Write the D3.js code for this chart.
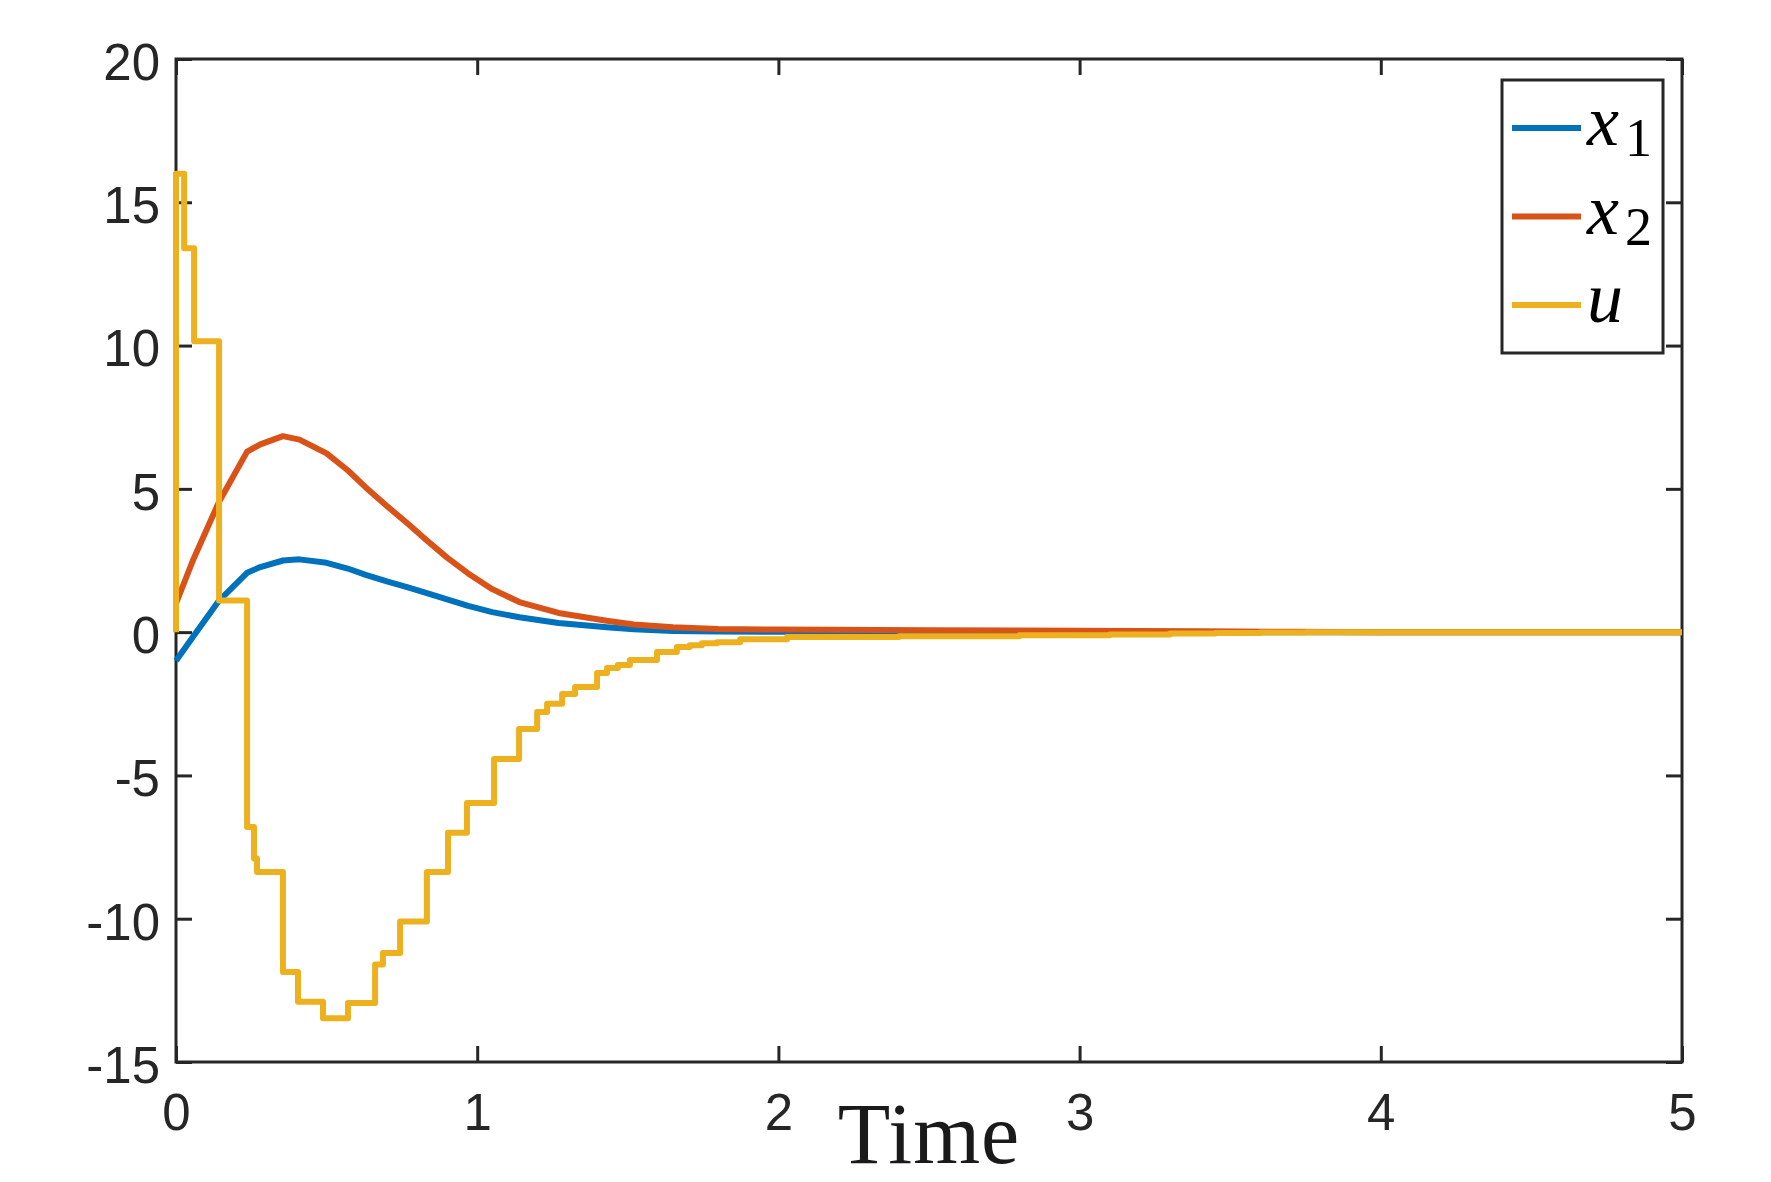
<!DOCTYPE html>
<html>
<head>
<meta charset="utf-8">
<script src="https://cdn.jsdelivr.net/npm/d3@7"></script>
<style>
  html, body { margin: 0; padding: 0; background: #ffffff; }
  svg { display: block; }
</style>
</head>
<body>
<div id="chart"></div>
<script>
// Chart size and margins (plot box lives inside these)
const WIDTH = 1771;
const HEIGHT = 1182;
const margin = {
  top: 59,
  right: 89,
  bottom: 120,
  left: 176
};

const INK = '#262626';

// Ticks
const xTicks = [0, 1, 2, 3, 4, 5];
const yTicks = [-15, -10, -5, 0, 5, 10, 15, 20];

// States x1, x2 sampled on a common time grid
const tState = [0, 0.056, 0.143, 0.236, 0.28, 0.355, 0.41, 0.5, 0.57, 0.63, 0.7, 0.77,
  0.833, 0.9, 0.97, 1.05, 1.14, 1.27, 1.43, 1.52, 1.65, 1.8, 2.0, 2.5, 3.0, 3.4, 3.7, 4.0, 5.0];
const x1Vals = [-1.0, -0.17, 1.1, 2.07, 2.27, 2.5, 2.54, 2.42, 2.22, 2.0, 1.77, 1.56,
  1.36, 1.14, 0.92, 0.7, 0.52, 0.32, 0.17, 0.1, 0.04, 0.02, 0.01, 0, 0, 0, 0, 0, 0];
const x2Vals = [1.0, 2.5, 4.55, 6.3, 6.55, 6.84, 6.72, 6.24, 5.65, 5.05, 4.4, 3.78,
  3.2, 2.6, 2.05, 1.5, 1.05, 0.67, 0.4, 0.27, 0.17, 0.11, 0.09, 0.07, 0.05, 0.03, 0.01, 0, 0];

// Control input u is piecewise constant (event triggered updates)
const uTimes = [0, 0, 0.027, 0.06, 0.143, 0.236, 0.259, 0.269, 0.355, 0.405, 0.488, 0.571,
  0.661, 0.687, 0.744, 0.833, 0.903, 0.966, 1.056, 1.139, 1.199, 1.232, 1.282, 1.325,
  1.398, 1.431, 1.467, 1.507, 1.597, 1.663, 1.706, 1.746, 1.796, 1.873, 2.029, 2.4,
  2.8, 3.1, 3.3, 3.45, 3.6, 3.75, 5.0];
const uVals = [0, 16.0, 13.4, 10.15, 1.1, -6.8, -7.9, -8.37, -11.86, -12.9, -13.47, -12.94,
  -11.6, -11.2, -10.1, -8.37, -7.0, -5.96, -4.43, -3.38, -2.79, -2.5, -2.16, -1.91,
  -1.43, -1.25, -1.15, -0.97, -0.69, -0.52, -0.46, -0.39, -0.35, -0.25, -0.17, -0.14,
  -0.11, -0.08, -0.05, -0.03, -0.01, 0, 0];

// Series names / colours (MATLAB default order)
const seriesNames = ['x1', 'x2', 'u'];
const seriesBase = ['x', 'x', 'u'];
const seriesSub = ['1', '2', ''];
const seriesColors = ['#0072BD', '#D95319', '#EDB120'];

const plotW = WIDTH - margin.left - margin.right;
const plotH = HEIGHT - margin.top - margin.bottom;

// Svg
const svg = d3
  .select('#chart')
  .append('svg')
  .attr('width', WIDTH)
  .attr('height', HEIGHT);

svg.append('rect')
  .attr('width', WIDTH)
  .attr('height', HEIGHT)
  .attr('fill', '#ffffff');

// Scales
const xScale = d3.scaleLinear()
  .domain([0, 5])
  .range([margin.left, margin.left + plotW]);

const yScale = d3.scaleLinear()
  .domain([-15, 20])
  .range([margin.top + plotH, margin.top]);

const TICK = 16;

// Bottom axis with labels
const xaxis = svg.append('g')
  .attr('transform', `translate(0, ${margin.top + plotH})`)
  .call(d3.axisBottom(xScale).tickValues(xTicks).tickFormat(d3.format('d'))
    .tickSizeInner(-TICK).tickSizeOuter(0).tickPadding(32));

// Left axis with labels
const yaxis = svg.append('g')
  .attr('transform', `translate(${margin.left}, 0)`)
  .call(d3.axisLeft(yScale).tickValues(yTicks).tickFormat(d => d < 0 ? '-' + Math.abs(d) : d)
    .tickSizeInner(-TICK).tickSizeOuter(0).tickPadding(16));

// Top and right: ticks only
const xaxisTop = svg.append('g')
  .attr('transform', `translate(0, ${margin.top})`)
  .call(d3.axisTop(xScale).tickValues(xTicks).tickFormat('')
    .tickSizeInner(-TICK).tickSizeOuter(0));

const yaxisRight = svg.append('g')
  .attr('transform', `translate(${margin.left + plotW}, 0)`)
  .call(d3.axisRight(yScale).tickValues(yTicks).tickFormat('')
    .tickSizeInner(-TICK).tickSizeOuter(0));

[xaxis, yaxis, xaxisTop, yaxisRight].forEach(ax => {
  ax.select('.domain').remove();
  ax.selectAll('line').attr('stroke', INK).attr('stroke-width', 3);
  ax.selectAll('text')
    .attr('fill', INK)
    .attr('font-family', '"Liberation Sans", Arial, Helvetica, sans-serif')
    .attr('font-size', '51px');
});
yaxis.selectAll('text').attr('dy', '0.4em');

// Box round the plot
svg.append('rect')
  .attr('x', margin.left)
  .attr('y', margin.top)
  .attr('width', plotW)
  .attr('height', plotH)
  .attr('fill', 'none')
  .attr('stroke', INK)
  .attr('stroke-width', 3);

// Lines
const stateLine = d3.line()
  .x(d => xScale(d[0]))
  .y(d => yScale(d[1]));

const stepLine = d3.line()
  .x(d => xScale(d[0]))
  .y(d => yScale(d[1]))
  .curve(d3.curveStepAfter);

const seriesData = [
  { pts: d3.zip(tState, x1Vals), gen: stateLine },
  { pts: d3.zip(tState, x2Vals), gen: stateLine },
  { pts: d3.zip(uTimes, uVals), gen: stepLine }
];

svg.append('g')
  .attr('id', 'lines')
  .selectAll('path')
  .data(seriesData)
  .join('path')
  .attr('d', d => d.gen(d.pts))
  .attr('fill', 'none')
  .attr('stroke', (d, i) => seriesColors[i])
  .attr('stroke-width', 6)
  .attr('stroke-linejoin', 'round')
  .attr('stroke-linecap', 'butt');

// Legend
const legend = svg.append('g').attr('id', 'legend');

legend.append('rect')
  .attr('x', 1502)
  .attr('y', 80)
  .attr('width', 161)
  .attr('height', 273)
  .attr('fill', '#ffffff')
  .attr('stroke', INK)
  .attr('stroke-width', 3);

const rows = legend.selectAll('g.row')
  .data(seriesNames)
  .join('g')
  .attr('class', 'row')
  .attr('transform', (d, i) => `translate(0, ${128 + i * 88.5})`);

rows.append('line')
  .attr('x1', 1512)
  .attr('x2', 1581)
  .attr('stroke', (d, i) => seriesColors[i])
  .attr('stroke-width', 6);

const labels = rows.append('text')
  .attr('x', 1587)
  .attr('y', 17)
  .attr('fill', '#000000')
  .attr('font-family', '"Liberation Serif", "Times New Roman", serif');

labels.append('tspan')
  .attr('font-style', 'italic')
  .attr('font-size', '72px')
  .text((d, i) => seriesBase[i]);

labels.append('tspan')
  .attr('font-size', '54px')
  .attr('dx', 6)
  .attr('dy', 11)
  .text((d, i) => seriesSub[i]);

// X axis title
svg.append('text')
  .attr('x', margin.left + plotW / 2)
  .attr('y', 1163)
  .attr('text-anchor', 'middle')
  .attr('fill', '#1a1a1a')
  .attr('font-family', '"Liberation Serif", "Times New Roman", serif')
  .attr('font-size', '86px')
  .attr('letter-spacing', '1px')
  .text('Time');
</script>
</body>
</html>
